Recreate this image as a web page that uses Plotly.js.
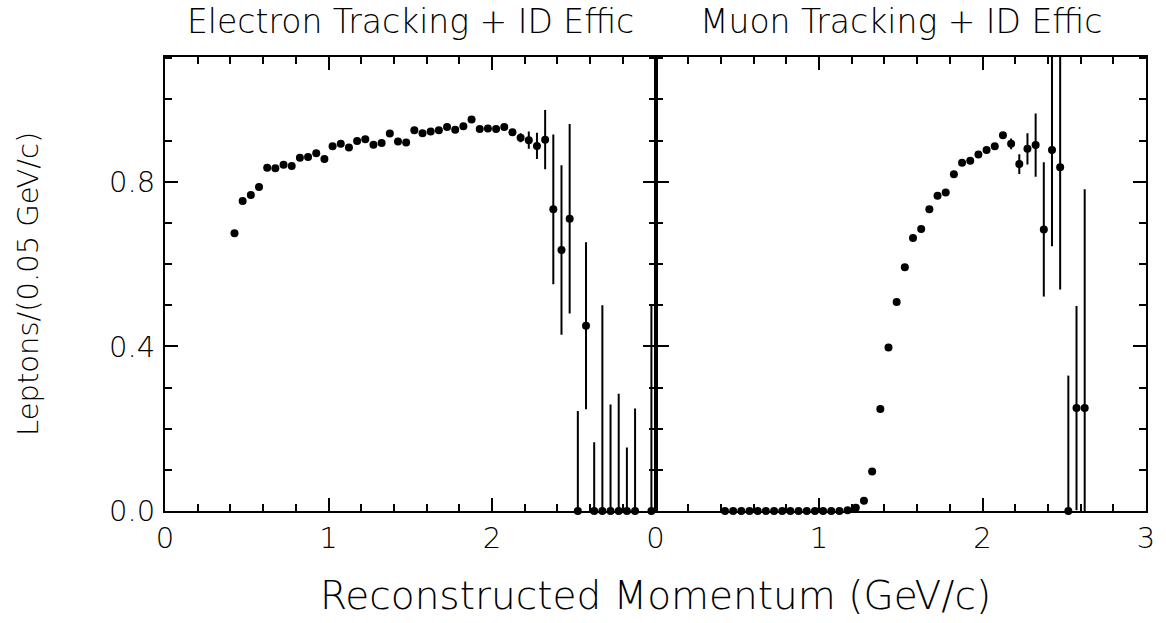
<!DOCTYPE html>
<html>
<head>
<meta charset="utf-8">
<script src="https://cdn.plot.ly/plotly-3.0.1.min.js"></script>
<style>html,body{margin:0;padding:0;background:#fff;}#chart{width:1166px;height:623px;}</style>
</head>
<body>
<div id="chart"></div>
<script>
// ---- Electron panel ----
const eX = [0.425,0.475,0.525,0.575,0.625,0.675,0.725,0.775,0.825,0.875,0.925,0.975,1.025,1.075,1.125,1.175,1.225,1.275,1.325,1.375,1.425,1.475,1.525,1.575,1.625,1.675,1.725,1.775,1.825,1.875,1.925,1.975,2.025,2.075,2.125,2.175,2.225,2.275,2.325,2.375,2.425,2.475,2.525,2.575,2.625,2.675,2.725,2.775,2.825,2.875,2.975];
const eY = [0.675,0.753,0.768,0.787,0.834,0.833,0.841,0.838,0.858,0.860,0.869,0.855,0.886,0.892,0.883,0.899,0.903,0.890,0.894,0.917,0.898,0.895,0.925,0.918,0.922,0.925,0.933,0.926,0.935,0.951,0.928,0.929,0.928,0.933,0.920,0.907,0.901,0.887,0.902,0.733,0.634,0.710,0,0.450,0,0,0,0,0,0,0];
const eErrUp = [0.005,0.005,0.005,0.005,0.005,0.005,0.005,0.005,0.005,0.005,0.005,0.005,0.005,0.005,0.005,0.005,0.005,0.005,0.005,0.005,0.005,0.005,0.005,0.005,0.005,0.005,0.005,0.005,0.005,0.005,0.006,0.006,0.006,0.007,0.008,0.011,0.021,0.032,0.072,0.182,0.206,0.230,0.243,0.203,0.167,0.500,0.259,0.285,0.154,0.249,0.500];
const eErrDn = [0.005,0.005,0.005,0.005,0.005,0.005,0.005,0.005,0.005,0.005,0.005,0.005,0.005,0.005,0.005,0.005,0.005,0.005,0.005,0.005,0.005,0.005,0.005,0.005,0.005,0.005,0.005,0.005,0.005,0.005,0.006,0.006,0.006,0.007,0.008,0.011,0.021,0.032,0.072,0.182,0.206,0.230,0,0.203,0,0,0,0,0,0,0];

// ---- Muon panel ----
const mX = [0.425,0.475,0.525,0.575,0.625,0.675,0.725,0.775,0.825,0.875,0.925,0.975,1.025,1.075,1.125,1.175,1.225,1.275,1.325,1.375,1.425,1.475,1.525,1.575,1.625,1.675,1.725,1.775,1.825,1.875,1.925,1.975,2.025,2.075,2.125,2.175,2.225,2.275,2.325,2.375,2.425,2.475,2.525,2.575,2.625];
const mY = [0,0,0,0,0,0,0,0,0,0,0,0,0,0,0,0.002,0.008,0.025,0.096,0.248,0.397,0.508,0.592,0.663,0.685,0.733,0.766,0.774,0.818,0.846,0.851,0.866,0.877,0.886,0.913,0.892,0.843,0.880,0.889,0.684,0.877,0.835,0,0.250,0.250];
const mErrUp = [0,0,0,0,0,0,0,0,0,0,0,0,0,0,0,0.001,0.002,0.003,0.004,0.005,0.005,0.005,0.005,0.005,0.005,0.005,0.005,0.005,0.005,0.005,0.005,0.005,0.006,0.007,0.008,0.013,0.024,0.038,0.077,0.163,0.234,0.297,0.329,0.248,0.532];
const mErrDn = [0,0,0,0,0,0,0,0,0,0,0,0,0,0,0,0.001,0.002,0.003,0.004,0.005,0.005,0.005,0.005,0.005,0.005,0.005,0.005,0.005,0.005,0.005,0.005,0.005,0.006,0.007,0.008,0.013,0.024,0.038,0.077,0.163,0.234,0.297,0,0.248,0.532];

const panelTitles = ["Electron Tracking + ID Effic", "Muon Tracking + ID Effic"];
const xTitle = "Reconstructed Momentum (GeV/c)";
const yTitle = "Leptons/(0.05 GeV/c)";
const yTickVals = [0, 0.4, 0.8];
const yTickText = ["0.0", "0.4", "0.8"];
const eXTickVals = [0, 1, 2];
const mXTickVals = [0, 1, 2, 3];

const FONT = "'DejaVu Sans ExtraLight', 'DejaVu Sans', sans-serif";

function errTrace(x, y, up, dn, xa, ya) {
  return {
    x: x, y: y, xaxis: xa, yaxis: ya, type: 'scatter', mode: 'markers',
    marker: {size: 8, color: 'rgba(0,0,0,0)'},
    error_y: {type: 'data', symmetric: false, array: up, arrayminus: dn,
              color: '#000', thickness: 2, width: 0},
    cliponaxis: true, hoverinfo: 'skip', showlegend: false
  };
}
function dotTrace(x, y, xa, ya) {
  return {
    x: x, y: y, xaxis: xa, yaxis: ya, type: 'scatter', mode: 'markers',
    marker: {size: 8, color: '#000'},
    cliponaxis: false, showlegend: false
  };
}

const data = [
  errTrace(eX, eY, eErrUp, eErrDn, 'x', 'y'),
  dotTrace(eX, eY, 'x', 'y'),
  errTrace(mX, mY, mErrUp, mErrDn, 'x2', 'y2'),
  dotTrace(mX, mY, 'x2', 'y2')
];

function xAxis(domain, anchor, tickvals) {
  return {
    domain: domain, anchor: anchor, range: [0, 3],
    showline: true, linecolor: '#000', linewidth: 2, mirror: 'ticks',
    ticks: 'inside', ticklen: 13, tickwidth: 2, tickcolor: '#000',
    tickvals: tickvals, ticktext: tickvals.map(String),
    minor: {dtick: 0.2, tick0: 0, ticks: 'inside', ticklen: 7, tickwidth: 2, tickcolor: '#000', showgrid: false},
    showgrid: false, zeroline: false,
    tickfont: {family: FONT, size: 29, color: '#000', weight: 200},
    ticklabelstandoff: 0
  };
}
function yAxis(anchor, showLabels) {
  return {
    anchor: anchor, domain: [0, 1], range: [0, 1.103],
    showline: true, linecolor: '#000', linewidth: 2, mirror: 'ticks',
    ticks: 'inside', ticklen: 13, tickwidth: 2, tickcolor: '#000',
    tickvals: yTickVals, ticktext: yTickText, showticklabels: showLabels,
    minor: {dtick: 0.1, tick0: 0, ticks: 'inside', ticklen: 7, tickwidth: 2, tickcolor: '#000', showgrid: false},
    showgrid: false, zeroline: false,
    tickfont: {family: FONT, size: 29, color: '#000', weight: 200},
    ticklabelstandoff: 2
  };
}

const layout = {
  width: 1166, height: 623,
  margin: {l: 165, r: 20, t: 57, b: 112},
  paper_bgcolor: '#fff', plot_bgcolor: '#fff',
  showlegend: false,
  xaxis: xAxis([0, 0.5], 'y', eXTickVals),
  xaxis2: xAxis([0.5, 1], 'y2', mXTickVals),
  yaxis: yAxis('x', true),
  yaxis2: Object.assign(yAxis('x2', false), {matches: 'y'}),
  annotations: [
    {text: panelTitles[0], xref: 'paper', yref: 'paper', x: 0.25, y: 1, yshift: 36,
     xanchor: 'center', yanchor: 'middle', showarrow: false,
     font: {family: FONT, size: 33, color: '#000', weight: 200}},
    {text: panelTitles[1], xref: 'paper', yref: 'paper', x: 0.75, y: 1, yshift: 36,
     xanchor: 'center', yanchor: 'middle', showarrow: false,
     font: {family: FONT, size: 33, color: '#000', weight: 200}},
    {text: xTitle, xref: 'paper', yref: 'paper', x: 0.5, y: 0, yshift: -84,
     xanchor: 'center', yanchor: 'middle', showarrow: false,
     font: {family: FONT, size: 39, color: '#000', weight: 200}},
    {text: yTitle, xref: 'paper', yref: 'paper', x: 0, xshift: -137, y: 0.5,
     xanchor: 'center', yanchor: 'middle', showarrow: false, textangle: -90,
     font: {family: FONT, size: 29, color: '#000', weight: 200}}
  ]
};

Plotly.newPlot('chart', data, layout, {displayModeBar: false, staticPlot: true});
</script>
</body>
</html>
